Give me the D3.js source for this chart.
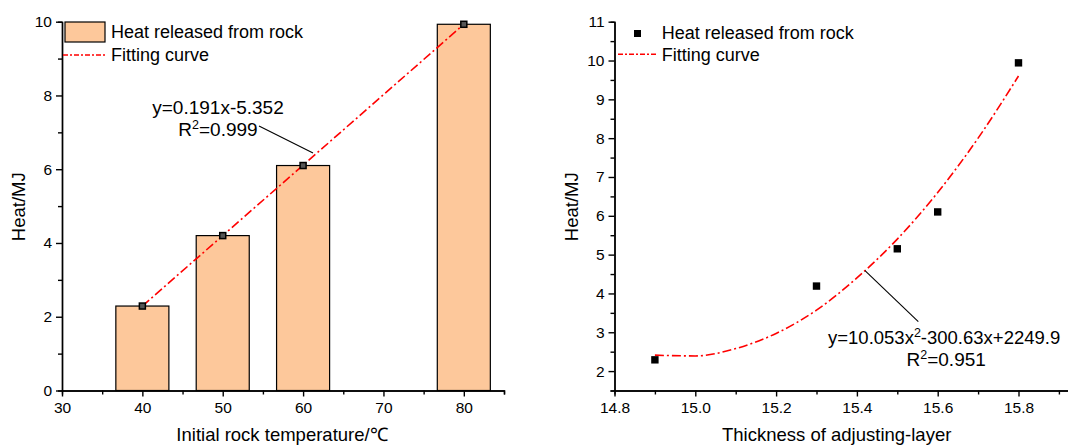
<!DOCTYPE html>
<html>
<head>
<meta charset="utf-8">
<script src="https://cdn.jsdelivr.net/npm/d3@7"></script>
<style>
  body { margin: 0; background: #fff; }
  svg { display: block; font-family: "Liberation Sans", Arial, sans-serif; }
  .axis path, .axis line { stroke: #000; stroke-width: 1.4; }
  .axis text { font-size: 15.5px; fill: #000; }
</style>
</head>
<body>
<div id="chart"></div>
<script>
// left panel: heat vs initial rock temperature
const tempCategories = [40, 50, 60, 80];
const heatByTemp = [2.29, 4.2, 6.1, 9.93];
const linFitX = [40, 80];
const linFitY = [2.29, 9.93];
const tempTicks = [30, 40, 50, 60, 70, 80];
const heatTicksLeft = [0, 2, 4, 6, 8, 10];

// right panel: heat vs thickness of adjusting-layer
const thickness = [14.9, 15.3, 15.5, 15.6, 15.8];
const heatByThickness = [2.29, 4.19, 5.15, 6.1, 9.94];
const quadFitX = [14.9, 15.0, 15.1, 15.2, 15.3, 15.4, 15.5, 15.6, 15.7, 15.8];
const quadFitY = [2.41, 2.39, 2.58, 2.97, 3.57, 4.4, 5.4, 6.6, 8.0, 9.6];
const thickTicks = [14.8, 15.0, 15.2, 15.4, 15.6, 15.8];
const heatTicksRight = [2, 3, 4, 5, 6, 7, 8, 9, 10, 11];

const W = 1068, H = 446;
const RED = "#ff0000";
const DASH = "9,3,2,3";

const svg = d3.select("#chart").append("svg").attr("width", W).attr("height", H);

drawLeft();
drawRight();

function drawLeft() {
  const x = d3.scaleLinear().domain([30, 85]).range([62, 504]);
  const y = d3.scaleLinear().domain([0, 10]).range([390.5, 21.7]);
  const barW = x(36.6) - x(30);

  // bars
  svg.append("g").selectAll("rect")
    .data(tempCategories)
    .join("rect")
    .attr("x", (d) => x(d) - barW / 2)
    .attr("y", (d, i) => y(heatByTemp[i]))
    .attr("width", barW)
    .attr("height", (d, i) => y(0) - y(heatByTemp[i]))
    .attr("fill", "#fdc89b")
    .attr("stroke", "#000")
    .attr("stroke-width", 1.2);

  // fitting line
  svg.append("path")
    .datum(linFitX.map((d, i) => [d, linFitY[i]]))
    .attr("d", d3.line().x((d) => x(d[0])).y((d) => y(d[1])))
    .attr("fill", "none")
    .attr("stroke", RED)
    .attr("stroke-width", 1.6)
    .attr("stroke-dasharray", DASH);

  // point markers
  svg.append("g").selectAll("rect")
    .data(tempCategories)
    .join("rect")
    .attr("x", (d) => x(d) - 3)
    .attr("y", (d, i) => y(heatByTemp[i]) - 3)
    .attr("width", 6)
    .attr("height", 6)
    .attr("fill", "#555")
    .attr("stroke", "#000")
    .attr("stroke-width", 1.5);

  drawAxes(x, y, tempTicks, heatTicksLeft,
    d3.range(35, 86, 10), d3.range(1, 10, 2), d3.format("d"), d3.format("d"));

  // legend
  svg.append("rect").attr("x", 65).attr("y", 22).attr("width", 40).attr("height", 20)
    .attr("fill", "#fdc89b").attr("stroke", "#000").attr("stroke-width", 1.2);
  legendText(111, 38, "Heat released from rock");
  svg.append("line").attr("x1", 63).attr("x2", 107).attr("y1", 55).attr("y2", 55)
    .attr("stroke", RED).attr("stroke-width", 1.6).attr("stroke-dasharray", "5,2,2,2");
  legendText(111, 61, "Fitting curve");

  // annotation
  svg.append("text").attr("x", 218).attr("y", 114).attr("text-anchor", "middle")
    .attr("font-size", 19).text("y=0.191x-5.352");
  rSquared(218, 136, "0.999", "middle");
  svg.append("line").attr("x1", 259).attr("y1", 126).attr("x2", 313).attr("y2", 153)
    .attr("stroke", "#000").attr("stroke-width", 1.1);

  axisTitles(282, 441, "Initial rock temperature/℃", 18.5, 206.7, "Heat/MJ");
}

function drawRight() {
  const x = d3.scaleLinear().domain([14.8, 15.95]).range([614.5, 614.5 + 1.15 * 404]);
  const y = d3.scaleLinear().domain([1.5, 11]).range([390.5, 21.7]);

  // fitting curve
  svg.append("path")
    .datum(quadFitX.map((d, i) => [d, quadFitY[i]]))
    .attr("d", d3.line().curve(d3.curveMonotoneX).x((d) => x(d[0])).y((d) => y(d[1])))
    .attr("fill", "none")
    .attr("stroke", RED)
    .attr("stroke-width", 1.6)
    .attr("stroke-dasharray", DASH);

  // points
  svg.append("g").selectAll("rect")
    .data(thickness)
    .join("rect")
    .attr("x", (d) => x(d) - 3.7)
    .attr("y", (d, i) => y(heatByThickness[i]) - 3.7)
    .attr("width", 7.4)
    .attr("height", 7.4)
    .attr("fill", "#000");

  drawAxes(x, y, thickTicks, heatTicksRight,
    d3.range(14.9, 15.95, 0.2), d3.range(1.5, 10.6, 1), d3.format(".1f"), d3.format("d"));

  // legend
  svg.append("rect").attr("x", 634).attr("y", 30).attr("width", 7).attr("height", 7).attr("fill", "#000");
  legendText(661.7, 39, "Heat released from rock");
  svg.append("line").attr("x1", 618).attr("x2", 657).attr("y1", 54.3).attr("y2", 54.3)
    .attr("stroke", RED).attr("stroke-width", 1.6).attr("stroke-dasharray", "5,2,2,2");
  legendText(661.7, 61, "Fitting curve");

  // annotation (kept inside the frame)
  const eq = svg.append("text").attr("x", 828).attr("y", 344).attr("font-size", 18.5);
  eq.append("tspan").text("y=10.053x");
  eq.append("tspan").attr("dy", -7.5).attr("font-size", 12.5).text("2");
  eq.append("tspan").attr("dy", 7.5).text("-300.63x+2249.9");
  rSquared(906.5, 366, "0.951", "start");
  svg.append("line").attr("x1", 865).attr("y1", 270.7).attr("x2", 918.3).attr("y2", 321.7)
    .attr("stroke", "#000").attr("stroke-width", 1.1);

  axisTitles(836.7, 441, "Thickness of adjusting-layer", 571.7, 206.7, "Heat/MJ");
}

function drawAxes(x, y, xTicks, yTicks, xMinor, yMinor, xFmt, yFmt) {
  const [y0] = y.range();
  const [x0] = x.range();

  svg.append("g").attr("class", "axis").attr("transform", `translate(0,${y0})`)
    .call(d3.axisBottom(x).tickValues(xMinor).tickSize(4).tickFormat(""));
  svg.append("g").attr("class", "axis").attr("transform", `translate(0,${y0})`)
    .call(d3.axisBottom(x).tickValues(xTicks).tickSize(6).tickPadding(5).tickFormat(xFmt).tickSizeOuter(0));

  svg.append("g").attr("class", "axis").attr("transform", `translate(${x0},0)`)
    .call(d3.axisLeft(y).tickValues(yMinor).tickSize(4).tickFormat(""));
  svg.append("g").attr("class", "axis").attr("transform", `translate(${x0},0)`)
    .call(d3.axisLeft(y).tickValues(yTicks).tickSize(6).tickPadding(4).tickFormat(yFmt).tickSizeOuter(0));
}

function legendText(x, y, s) {
  svg.append("text").attr("x", x).attr("y", y).attr("font-size", 18).text(s);
}

function rSquared(x, y, v, anchor) {
  const t = svg.append("text").attr("x", x).attr("y", y).attr("font-size", 19)
    .attr("text-anchor", anchor);
  t.append("tspan").text("R");
  t.append("tspan").attr("dy", -7.5).attr("font-size", 12.5).text("2");
  t.append("tspan").attr("dy", 7.5).text("=" + v);
}

function axisTitles(xCx, xBase, xLabel, yCx, yCy, yLabel) {
  svg.append("text").attr("x", xCx).attr("y", xBase).attr("text-anchor", "middle")
    .attr("font-size", 18.5).text(xLabel);
  svg.append("text")
    .attr("transform", `translate(${yCx},${yCy}) rotate(-90)`)
    .attr("text-anchor", "middle").attr("dy", "0.35em")
    .attr("font-size", 18.5).text(yLabel);
}
</script>
</body>
</html>
